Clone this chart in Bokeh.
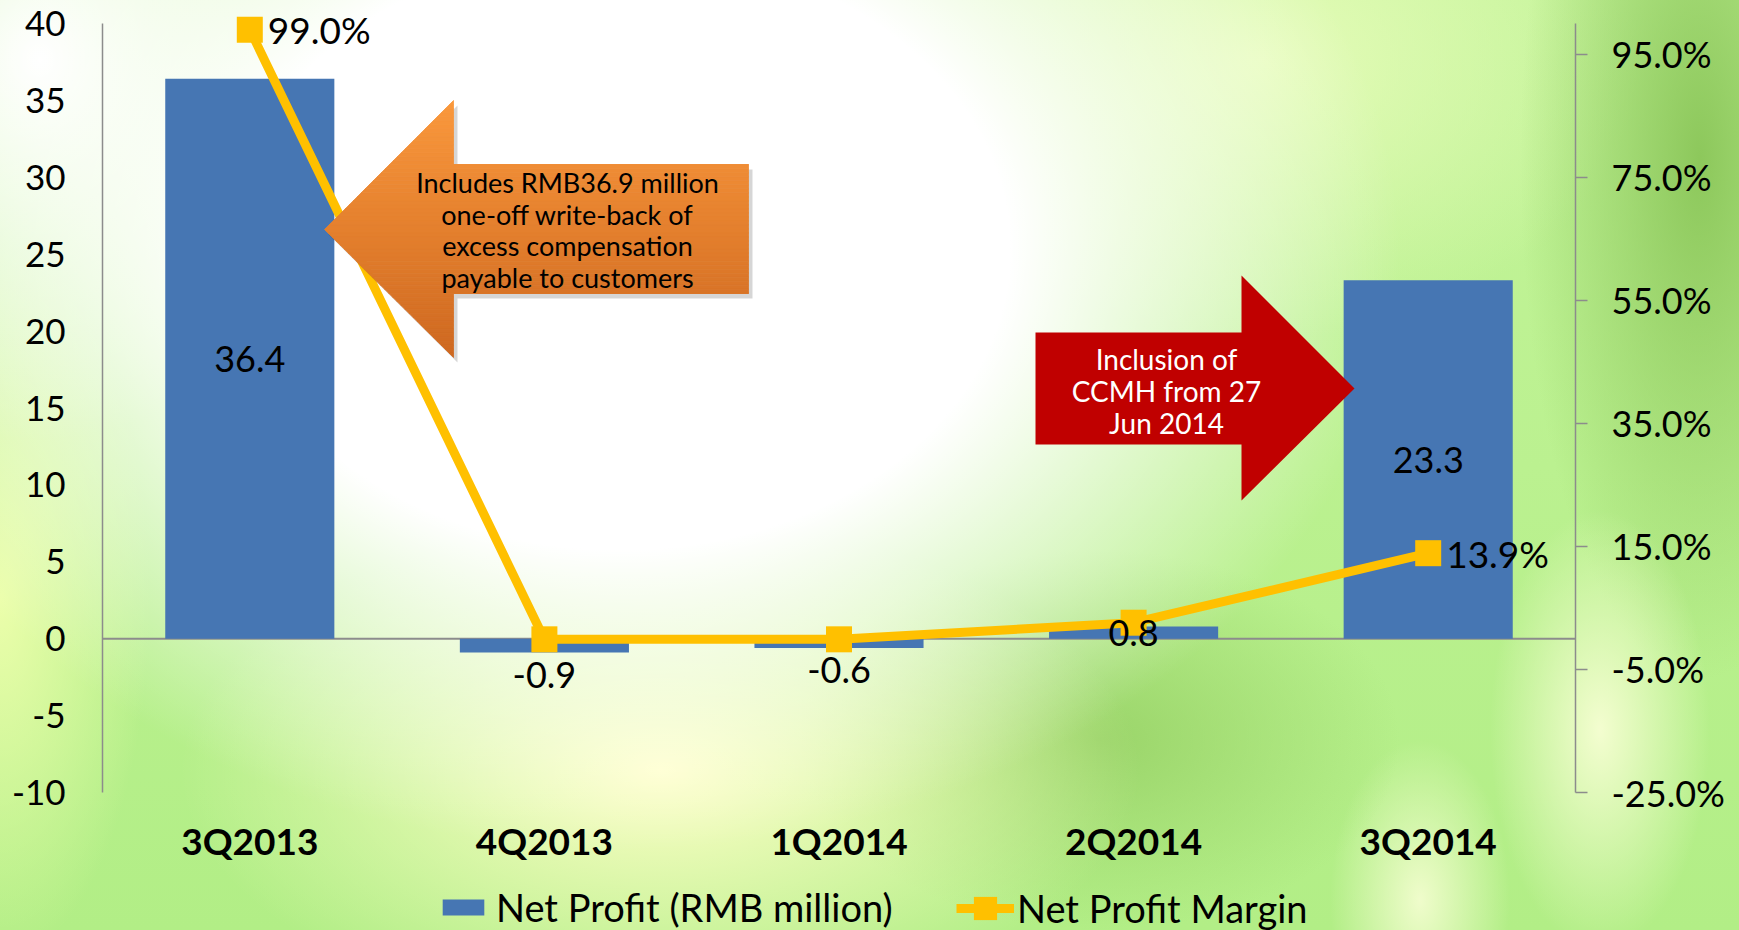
from bokeh.plotting import figure
from bokeh.models import (ColumnDataSource, Range1d, LinearAxis, FixedTicker,
                          PrintfTickFormatter, Span, Legend, LegendItem)
from bokeh.core.properties import value
from bokeh.embed import file_html
from bokeh.resources import INLINE

# ---- data -------------------------------------------------------------
quarters = ["3Q2013", "4Q2013", "1Q2014", "2Q2014", "3Q2014"]
net_profit = [36.4, -0.9, -0.6, 0.8, 23.3]          # RMB million
net_margin = [99.0, -0.1, -0.1, 2.6, 13.9]          # percent
margin_labelled = [True, False, False, False, True]
profit_ticks = [-10, -5, 0, 5, 10, 15, 20, 25, 30, 35, 40]
margin_ticks = [-25, -5, 15, 35, 55, 75, 95]
profit_bounds = (-10, 40)
margin_bounds = (-25, 100)

orange_note = ["Includes RMB36.9 million", "one-off write-back of",
               "excess compensation", "payable to customers"]
red_note = ["Inclusion of", "CCMH from 27", "Jun 2014"]

FONT = "Lato"
BAR = "#4676B3"
GOLD = "#FFC000"
AXIS_GREY = "#8c8c8c"

# ---- page geometry (pixels) ------------------------------------------
W, H = 1739, 930
F_LEFT, F_RIGHT = 102, 1575          # plot area, horizontally
AX_TOP, AX_BOTTOM = 23, 792          # where the value axes start / end
N = len(quarters)
PX_PER_CAT = (F_RIGHT - F_LEFT) / N
span_px = AX_BOTTOM - AX_TOP
lo, hi = profit_bounds
mlo, mhi = margin_bounds
left_per_px = (hi - lo) / span_px
right_per_px = (mhi - mlo) / span_px


def xd(px):
    """canvas x pixel -> synthetic categorical coordinate"""
    return (px - F_LEFT) / PX_PER_CAT


def yd(py):
    """canvas y pixel -> left-axis value"""
    return hi - (py - AX_TOP) * left_per_px


# the frame runs the full height of the page; the axes are bounded
y_range = Range1d(yd(H), yd(0))
pct_range = Range1d(mlo - (H - AX_BOTTOM) * right_per_px, mhi + AX_TOP * right_per_px)

p = figure(x_range=quarters, y_range=y_range,
           width=W, height=H, output_backend="svg", toolbar_location=None,
           min_border_left=F_LEFT, min_border_right=W - F_RIGHT,
           min_border_top=0, min_border_bottom=0)
p.extra_y_ranges = {"pct": pct_range}

p.background_fill_color = None
p.border_fill_color = None
p.outline_line_color = None
p.xgrid.visible = False
p.ygrid.visible = False
p.xaxis.visible = False

# soft green / white backdrop behind the whole chart
p.styles = {
    "background":
        "radial-gradient(ellipse 780px 600px at 620px 250px, rgba(255,255,255,1) 0%, rgba(255,255,255,1) 50%, rgba(255,255,255,0) 100%),"
        "radial-gradient(ellipse 320px 380px at 40px 60px, rgba(255,255,255,1) 0%, rgba(255,255,255,0) 100%),"
        "radial-gradient(ellipse 480px 250px at 660px 770px, rgba(255,255,200,1) 0%, rgba(255,255,200,0) 100%),"
        "radial-gradient(ellipse 300px 190px at 1100px 740px, rgba(150,208,100,0.85) 0%, rgba(150,208,100,0) 100%),"
        "radial-gradient(ellipse 110px 220px at 1600px 730px, rgba(250,255,215,0.9) 0%, rgba(250,255,215,0) 100%),"
        "radial-gradient(ellipse 90px 160px at 1420px 900px, rgba(250,255,215,0.85) 0%, rgba(250,255,215,0) 100%),"
        "radial-gradient(ellipse 180px 520px at 1700px 160px, rgba(135,195,85,0.9) 0%, rgba(135,195,85,0) 100%),"
        "radial-gradient(ellipse 380px 280px at 1260px 60px, rgba(230,252,185,1) 0%, rgba(230,252,185,0) 100%),"
        "radial-gradient(ellipse 150px 360px at 0px 600px, rgba(238,255,172,0.95) 0%, rgba(238,255,172,0) 100%),"
        "linear-gradient(180deg, #c4f49a 0%, #b2ee86 100%)",
}

# ---- axes -------------------------------------------------------------
ya = p.yaxis[0]
ya.bounds = profit_bounds
ya.ticker = FixedTicker(ticks=profit_ticks)
ya.formatter = PrintfTickFormatter(format="%d")
ya.axis_line_color = AXIS_GREY
ya.axis_line_width = 1.5
ya.major_tick_line_color = None
ya.minor_tick_line_color = None
ya.major_tick_out = 0
ya.major_label_standoff = 37
ya.major_label_text_font = FONT
ya.major_label_text_font_size = "35px"
ya.major_label_text_color = "black"

ra = LinearAxis(y_range_name="pct", ticker=FixedTicker(ticks=margin_ticks),
                formatter=PrintfTickFormatter(format="%.1f%%"), bounds=margin_bounds)
ra.axis_line_color = AXIS_GREY
ra.axis_line_width = 1.5
ra.major_tick_line_color = AXIS_GREY
ra.major_tick_line_width = 1.5
ra.major_tick_out = 12
ra.major_tick_in = 0
ra.minor_tick_line_color = None
ra.major_label_standoff = 24
ra.major_label_text_font = FONT
ra.major_label_text_font_size = "36px"
ra.major_label_text_color = "black"
p.add_layout(ra, "right")

p.add_layout(Span(location=0, dimension="width", line_color=AXIS_GREY,
                  line_width=2, level="underlay"))

# category names under the plot
p.text(x=quarters, y=[yd(840)] * N, text=quarters,
       text_align="center", text_baseline="middle",
       text_font=value(FONT), text_font_style="bold", text_font_size="37px",
       text_color="black")

# ---- bars ---------------------------------------------------------------
bars = p.vbar(x=quarters, top=net_profit, bottom=0, width=0.574,
              fill_color=BAR, line_color=None)

# ---- margin line --------------------------------------------------------
mline = p.line(x=quarters, y=net_margin, y_range_name="pct",
               line_color=GOLD, line_width=9, line_join="round")
mpts = p.scatter(x=quarters, y=net_margin, y_range_name="pct", marker="square",
                 size=26, fill_color=GOLD, line_color=None)

# ---- call-out arrows ----------------------------------------------------
def clip_band(poly, y0, y1):
    def clip(pts, keep, edge):
        out = []
        for i in range(len(pts)):
            a, b = pts[i - 1], pts[i]
            ina, inb = keep(a[1]), keep(b[1])
            if inb:
                if not ina:
                    t = (edge - a[1]) / (b[1] - a[1])
                    out.append((a[0] + t * (b[0] - a[0]), edge))
                out.append(b)
            elif ina:
                t = (edge - a[1]) / (b[1] - a[1])
                out.append((a[0] + t * (b[0] - a[0]), edge))
        return out
    pts = clip(poly, lambda y: y >= y0, y0)
    if pts:
        pts = clip(pts, lambda y: y <= y1, y1)
    return pts


def mix(c0, c1, t):
    return "#%02x%02x%02x" % tuple(round(a + (b - a) * t) for a, b in zip(c0, c1))


left_arrow = [(324, 229), (453, 100), (453, 164), (748, 164), (748, 293),
              (453, 293), (453, 357)]
right_arrow = [(1035, 332), (1241, 332), (1241, 275), (1354, 388),
               (1241, 500), (1241, 444), (1035, 444)]

# drop shadow of the orange arrow
p.patch([xd(x + 4) for x, _ in left_arrow], [yd(y + 5) for _, y in left_arrow],
        fill_color="black", fill_alpha=0.16, line_color=None)

# orange arrow with a vertical gradient, painted in thin horizontal bands
top_c, bot_c = (250, 152, 60), (206, 104, 32)
ys_min, ys_max = 100, 357
steps = 64
band_xs, band_ys, band_cols = [], [], []
for k in range(steps):
    y0 = ys_min + (ys_max - ys_min) * k / steps
    y1 = ys_min + (ys_max - ys_min) * (k + 1) / steps
    pts = clip_band(left_arrow, y0, y1)
    if len(pts) < 3:
        continue
    band_xs.append([xd(x) for x, _ in pts])
    band_ys.append([yd(y) for _, y in pts])
    band_cols.append(mix(top_c, bot_c, (k + 0.5) / steps))
p.patches(xs="xs", ys="ys", fill_color="c", line_color="c", line_width=0.8,
          source=ColumnDataSource(dict(xs=band_xs, ys=band_ys, c=band_cols)))

p.patch([xd(x) for x, _ in right_arrow], [yd(y) for _, y in right_arrow],
        fill_color="#C00000", line_color=None)

p.text(x=[xd(567)] * len(orange_note),
       y=[yd(182 + 31.7 * i) for i in range(len(orange_note))],
       text=orange_note, text_align="center", text_baseline="middle",
       text_font=value(FONT), text_font_size="27px", text_color="black")
p.text(x=[xd(1166)] * len(red_note),
       y=[yd(358 + 32 * i) for i in range(len(red_note))],
       text=red_note, text_align="center", text_baseline="middle",
       text_font=value(FONT), text_font_size="28px", text_color="white")

# ---- value labels -------------------------------------------------------
lab = ColumnDataSource(dict(
    x=quarters,
    y=[v / 2 if v > 0 else v for v in net_profit],
    off=[0 if v > 0 else 22 for v in net_profit],
    t=[f"{v:.1f}" for v in net_profit],
))
p.text(x="x", y="y", y_offset="off", text="t", source=lab,
       text_align="center", text_baseline="middle",
       text_font=value(FONT), text_font_size="36px", text_color="black")

idx = [i for i, f in enumerate(margin_labelled) if f]
p.text(x=[quarters[i] for i in idx], y=[net_margin[i] for i in idx],
       text=[f"{net_margin[i]:.1f}%" for i in idx], y_range_name="pct",
       x_offset=18, text_align="left", text_baseline="middle",
       text_font=value(FONT), text_font_size="37px", text_color="black")

# ---- legend along the bottom edge --------------------------------------
leg1 = Legend(items=[LegendItem(label="Net Profit (RMB million)", renderers=[bars])],
              location=(335, 0), orientation="horizontal",
              glyph_width=52, glyph_height=20, label_standoff=7)
leg2 = Legend(items=[LegendItem(label="Net Profit Margin", renderers=[mline, mpts])],
              location=(854, -8), orientation="horizontal",
              glyph_width=58, glyph_height=60, label_standoff=3)
for lg in (leg1, leg2):
    lg.padding = 0
    lg.margin = 0
    lg.border_line_color = None
    lg.background_fill_alpha = 0
    lg.label_text_font = FONT
    lg.label_text_font_size = "38px"
    lg.label_text_color = "black"
    p.add_layout(lg)

open("out.html", "w").write(file_html(p, INLINE))
